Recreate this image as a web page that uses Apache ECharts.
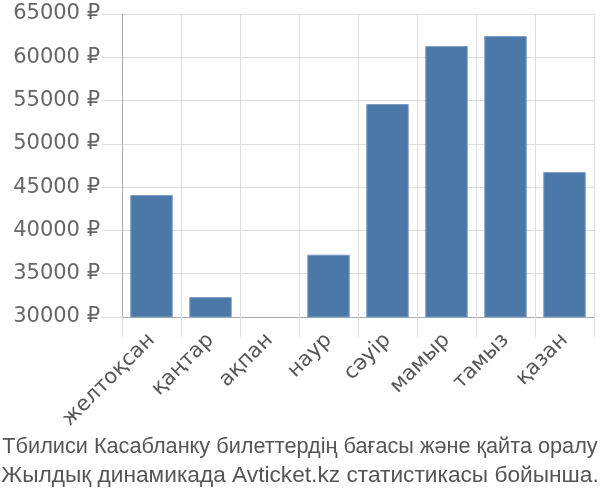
<!DOCTYPE html>
<html><head><meta charset="utf-8">
<script src="https://cdn.jsdelivr.net/npm/echarts@6/dist/echarts.min.js"></script>
<style>html,body{margin:0;padding:0;background:#fff}#c{width:600px;height:500px}</style>
</head><body><div id="c"></div>
<script>
var categories = ['желтоқсан','қаңтар','ақпан','наур','сәуір','мамыр','тамыз','қазан'];
var prices = [44100, 32300, null, 37200, 54600, 61300, 62450, 46750];
var yMin = 30000, yMax = 65000, yStep = 5000;
var titleLines = ['Тбилиси Касабланку билеттердің бағасы және қайта оралу', 'Жылдық динамикада Avticket.kz статистикасы бойынша.'];

var titleFont = 'Liberation Sans, Arial, sans-serif';
var chart = echarts.init(document.getElementById('c'), null, {renderer:'canvas'});
chart.setOption({
  animation:false,
  backgroundColor:'#fff',
  title:[{
    text: titleLines[0],
    left:'center', top:431,
    textStyle:{fontFamily:titleFont, fontSize:21.7, fontWeight:'normal', color:'#555'}
  },{
    text: titleLines[1],
    left:'center', top:459,
    textStyle:{fontFamily:titleFont, fontSize:22.7, fontWeight:'normal', color:'#555'}
  }],
  grid:{left:122, right:6, top:14, bottom:183, containLabel:false},
  xAxis:{
    type:'category', data:categories, boundaryGap:true,
    axisLine:{show:true, lineStyle:{color:'#aaa', width:1}},
    axisTick:{show:true, length:20, lineStyle:{color:'#ddd'}},
    splitLine:{show:true, lineStyle:{color:'#ddd', width:1}},
    axisLabel:{rotate:45, margin:20, interval:0, fontSize:21, color:'#555', fontFamily:'DejaVu Sans, sans-serif'}
  },
  yAxis:{
    type:'value', min:yMin, max:yMax, interval:yStep,
    axisLine:{show:true, lineStyle:{color:'#aaa', width:1}},
    axisTick:{show:true, length:20, lineStyle:{color:'#ddd'}},
    splitLine:{show:true, lineStyle:{color:'#ddd', width:1}},
    axisLabel:{margin:22, fontSize:21, color:'#666', fontFamily:'DejaVu Sans, sans-serif', formatter:function(v){return v+' ₽';}}
  },
  series:[{
    type:'bar', data:prices, barCategoryGap:'28%',
    itemStyle:{color:'#4c78a8', borderColor:'#7d9cc6', borderWidth:1}
  }]
});
</script></body></html>
